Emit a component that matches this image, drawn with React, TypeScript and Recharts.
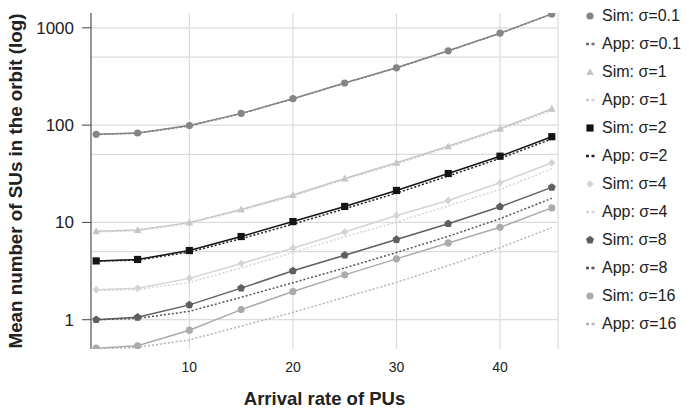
import React from "react";
import { LineChart, Line, XAxis, YAxis, CartesianGrid, ReferenceLine, Label } from "recharts";

const arrivalRates = [1, 5, 10, 15, 20, 25, 30, 35, 40, 45];

const sim01 = [80.5, 83, 99, 132, 187, 271, 388, 580, 880, 1390];
const app01 = [80, 82.5, 98, 131, 186, 270, 386, 578, 876, 1385];
const sim1 = [8.1, 8.35, 9.95, 13.6, 19.1, 28.3, 41, 60.7, 92, 147];
const app1 = [8.0, 8.25, 9.8, 13.3, 18.7, 27.6, 40, 59, 89.5, 142];
const sim2 = [4.02, 4.16, 5.14, 7.16, 10.2, 14.6, 21.3, 31.8, 47.9, 76];
const app2 = [4.0, 4.1, 4.95, 6.8, 9.6, 13.8, 20, 30, 45.5, 72];
const sim4 = [2.03, 2.1, 2.66, 3.78, 5.43, 7.97, 11.8, 16.8, 25.6, 41];
const app4 = [2.0, 2.04, 2.42, 3.4, 4.9, 7.1, 10.1, 14.8, 21.8, 35.6];
const sim8 = [1.0, 1.06, 1.42, 2.11, 3.18, 4.6, 6.67, 9.7, 14.5, 22.9];
const app8 = [1.0, 1.03, 1.22, 1.7, 2.4, 3.4, 4.9, 7.2, 10.9, 17.7];
const sim16 = [0.51, 0.54, 0.78, 1.27, 1.95, 2.89, 4.22, 6.15, 8.9, 14.1];
const app16 = [0.5, 0.52, 0.62, 0.86, 1.19, 1.7, 2.42, 3.6, 5.5, 8.85];

const xTicks = [10, 20, 30, 40];
const yTicks = [1, 10, 100, 1000];
const yGridValues = [1, 5, 10, 50, 100, 500, 1000];

type Shape = "circle" | "triangle" | "square" | "diamond" | "pentagon" | "none";

const series: { key: string; name: string; values: number[]; color: string; shape: Shape; dashed: boolean }[] = [
  { key: "app01", name: "App: σ=0.1", values: app01, color: "#6e6e6e", shape: "none", dashed: true },
  { key: "sim01", name: "Sim: σ=0.1", values: sim01, color: "#858585", shape: "circle", dashed: false },
  { key: "sim1", name: "Sim: σ=1", values: sim1, color: "#c6c6c6", shape: "triangle", dashed: false },
  { key: "app1", name: "App: σ=1", values: app1, color: "#cfcfcf", shape: "none", dashed: true },
  { key: "sim2", name: "Sim: σ=2", values: sim2, color: "#141414", shape: "square", dashed: false },
  { key: "app2", name: "App: σ=2", values: app2, color: "#222222", shape: "none", dashed: true },
  { key: "sim4", name: "Sim: σ=4", values: sim4, color: "#d4d4d4", shape: "diamond", dashed: false },
  { key: "app4", name: "App: σ=4", values: app4, color: "#d6d6d6", shape: "none", dashed: true },
  { key: "sim8", name: "Sim: σ=8", values: sim8, color: "#5f5f5f", shape: "pentagon", dashed: false },
  { key: "app8", name: "App: σ=8", values: app8, color: "#555555", shape: "none", dashed: true },
  { key: "sim16", name: "Sim: σ=16", values: sim16, color: "#ababab", shape: "circle", dashed: false },
  { key: "app16", name: "App: σ=16", values: app16, color: "#b4b4b4", shape: "none", dashed: true },
];

const legendOrder = ["sim01", "app01", "sim1", "app1", "sim2", "app2", "sim4", "app4", "sim8", "app8", "sim16", "app16"];

const data = arrivalRates.map((x, i) => {
  const row: Record<string, number> = { x };
  series.forEach((s) => (row[s.key] = s.values[i]));
  return row;
});

const FONT = '"Liberation Sans", Arial, Helvetica, sans-serif';

function Marker({ shape, cx, cy, fill }: { shape: Shape; cx: number; cy: number; fill: string }) {
  if (cx == null || cy == null) return null;
  if (shape === "circle") return <circle cx={cx} cy={cy} r={3.6} fill={fill} />;
  if (shape === "square") return <rect x={cx - 3.6} y={cy - 3.6} width={7.2} height={7.2} fill={fill} />;
  if (shape === "triangle")
    return <polygon points={`${cx},${cy - 4} ${cx + 3.8},${cy + 3} ${cx - 3.8},${cy + 3}`} fill={fill} />;
  if (shape === "diamond")
    return <polygon points={`${cx},${cy - 4} ${cx + 3.6},${cy} ${cx},${cy + 4} ${cx - 3.6},${cy}`} fill={fill} />;
  if (shape === "pentagon") {
    const pts = [0, 1, 2, 3, 4]
      .map((k) => {
        const a = -Math.PI / 2 + (k * 2 * Math.PI) / 5;
        return `${cx + 4.2 * Math.cos(a)},${cy + 4.2 * Math.sin(a)}`;
      })
      .join(" ");
    return <polygon points={pts} fill={fill} />;
  }
  return null;
}

function ChartLegend() {
  return (
    <div style={{ position: "absolute", left: 580, top: 0, width: 109, fontFamily: FONT, fontSize: 16, color: "#222" }}>
      {legendOrder.map((k, i) => {
        const s = series.find((d) => d.key === k)!;
        return (
          <div key={k} style={{ position: "absolute", top: 15.7 + 28 * i - 10, left: 0, height: 20, display: "flex", alignItems: "center", whiteSpace: "nowrap" }}>
            <svg width={20} height={20} style={{ display: "block" }}>
              {s.dashed ? (
                <line x1={6} x2={17} y1={10} y2={10} stroke={s.color} strokeWidth={2.5} strokeDasharray="3 2.5" />
              ) : (
                <Marker shape={s.shape} cx={10} cy={10} fill={s.color} />
              )}
            </svg>
            <span style={{ marginLeft: 2 }}>{s.name}</span>
          </div>
        );
      })}
    </div>
  );
}

export default function App() {
  return (
    <div style={{ position: "absolute", left: 0, top: 0, width: 689, height: 417, background: "#fff" }}>
      <LineChart width={689} height={417} data={data} margin={{ top: 13, right: 131, bottom: 0, left: 0 }}>
        <CartesianGrid horizontal={false} stroke="#dcdcdc" strokeWidth={1.2} />
        {yGridValues.map((v) => (
          <ReferenceLine key={v} y={v} stroke="#dcdcdc" strokeWidth={1.2} ifOverflow="hidden" />
        ))}
        <XAxis
          dataKey="x"
          type="number"
          domain={[0.5, 45.6]}
          ticks={xTicks}
          allowDataOverflow
          axisLine={false}
          tickLine={false}
          tickMargin={7}
          height={68}
          tick={{ fill: "#222", fontSize: 14, fontFamily: FONT }}
        >
          <Label
            value="Arrival rate of PUs"
            position="insideBottom"
            offset={12}
            style={{ fontWeight: "bold", fontSize: 18.5, fontFamily: FONT, fill: "#222" }}
          />
        </XAxis>
        <YAxis
          scale="log"
          domain={[0.5, 1420]}
          ticks={yTicks}
          allowDataOverflow
          width={91}
          stroke="#444"
          tickSize={9}
          tickMargin={8}
          tick={{ fill: "#222", fontSize: 17, fontFamily: FONT }}
        >
          <Label
            value="Mean number of SUs in the orbit (log)"
            angle={-90}
            position="insideLeft"
            offset={15}
            style={{ textAnchor: "middle", fontWeight: "bold", fontSize: 18.8, fontFamily: FONT, fill: "#222" }}
          />
        </YAxis>
        {series.map((s) => (
          <Line
            key={s.key}
            dataKey={s.key}
            type="linear"
            stroke={s.color}
            strokeWidth={1.5}
            strokeDasharray={s.dashed ? "2 2" : undefined}
            isAnimationActive={false}
            dot={
              s.shape === "none"
                ? false
                : (p: any) => <Marker key={`${s.key}-${p.index}`} shape={s.shape} cx={p.cx} cy={p.cy} fill={s.color} />
            }
            activeDot={false}
          />
        ))}
      </LineChart>
      <ChartLegend />
    </div>
  );
}
